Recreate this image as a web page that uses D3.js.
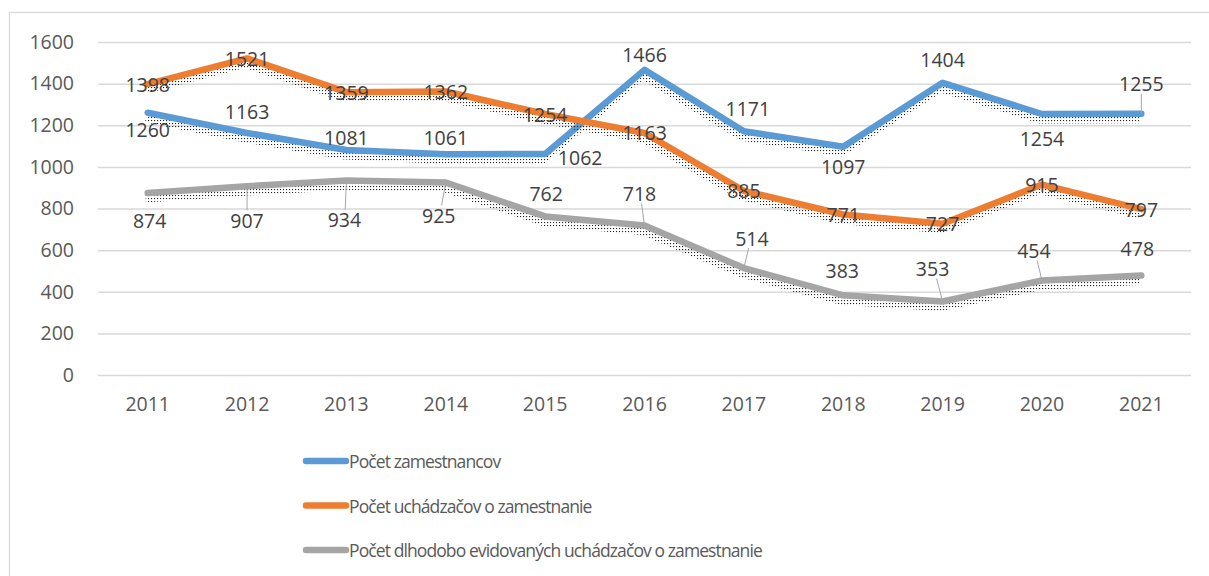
<!DOCTYPE html>
<html>
<head>
<meta charset="utf-8">
<script src="https://cdn.jsdelivr.net/npm/d3@7"></script>
<style>
  body { margin: 0; background: #fff; }
  text { font-family: "Open Sans", sans-serif; }
</style>
</head>
<body>
<div id="chart"></div>
<script>
// Data
const years = ["2011", "2012", "2013", "2014", "2015", "2016", "2017", "2018", "2019", "2020", "2021"];
const zamestnanci = [1260, 1163, 1081, 1061, 1062, 1466, 1171, 1097, 1404, 1254, 1255];
const uchadzaci = [1398, 1521, 1359, 1362, 1254, 1163, 885, 771, 727, 915, 797];
const dlhodobi = [874, 907, 934, 925, 762, 718, 514, 383, 353, 454, 478];
const yTicks = [0, 200, 400, 600, 800, 1000, 1200, 1400, 1600];
const seriesNames = [
    "Počet zamestnancov",
    "Počet uchádzačov o zamestnanie",
    "Počet dlhodobo evidovaných uchádzačov o zamestnanie"
];

// label placement (dx, dy from the point), like Excel put them
const labelShift = [
    [[0,17],[0,-21],[0,-13],[0,-17],[35,4],[0,-15],[4,-23],[0,20],[0,-23],[0,24],[0,-30]],
    [[0,0],[0,0],[0,0],[0,0],[0,0],[0,0],[0,0],[0,0],[0,0],[0,0],[0,0]],
    [[2,27],[0,34],[-2,39],[-7,33],[1,-23],[-5,-32],[8,-30],[-1,-25],[-10,-33],[-8,-30],[-4,-27]]
];

const W = 1209, H = 576;
const plot = { left: 98, right: 1191, top: 42, bottom: 375 };

const svg = d3.select("#chart")
    .append("svg")
    .attr("width", W)
    .attr("height", H);

// dotted shadow texture
const defs = svg.append("defs");
const pat = defs.append("pattern")
    .attr("id", "dots")
    .attr("width", 3)
    .attr("height", 3)
    .attr("patternUnits", "userSpaceOnUse");
pat.append("rect").attr("x", 0).attr("y", 0).attr("width", 1.1).attr("height", 1.1).attr("fill", "#222");

// chart border
svg.append("rect")
    .attr("x", 9.5)
    .attr("y", 12.5)
    .attr("width", 1220)
    .attr("height", 600)
    .attr("fill", "none")
    .attr("stroke", "#d9d9d9")
    .attr("stroke-width", 1.3);

// Scales
const x = d3.scaleBand()
    .domain(years)
    .range([plot.left, plot.right]);

const y = d3.scaleLinear()
    .domain([0, 1600])
    .range([plot.bottom, plot.top]);

const color = d3.scaleOrdinal()
    .domain(seriesNames)
    .range(["#5b9bd5", "#ed7d31", "#a5a5a5"]);

// Gridlines
svg.append("g")
    .attr("transform", `translate(${plot.left},0)`)
    .call(d3.axisLeft(y).tickValues(yTicks).tickSize(-(plot.right - plot.left)).tickFormat(""))
    .call(g => g.select(".domain").remove())
    .selectAll("line")
    .attr("stroke", "#d9d9d9")
    .attr("stroke-width", 1.5);

// Y axis labels
svg.append("g")
    .attr("transform", `translate(${plot.left},0)`)
    .call(d3.axisLeft(y).tickValues(yTicks).tickSize(0).tickPadding(24).tickFormat(d3.format("d")))
    .call(g => g.select(".domain").remove())
    .selectAll("text")
    .attr("fill", "#595959")
    .style("font-size", "19.5px");

// X axis labels
svg.append("g")
    .attr("transform", `translate(0,${plot.bottom})`)
    .call(d3.axisBottom(x).tickSize(0).tickPadding(22))
    .call(g => g.select(".domain").remove())
    .selectAll("text")
    .attr("fill", "#595959")
    .style("font-size", "19.5px");

// Lines
const allSeries = [zamestnanci, uchadzaci, dlhodobi];
const cx = d => x(d) + x.bandwidth() / 2;

const line = d3.line()
    .x((d, i) => cx(years[i]))
    .y(d => y(d));

allSeries.forEach((vals, s) => {
    svg.append("path")
        .datum(vals)
        .attr("d", line)
        .attr("transform", "translate(-2,6)")
        .attr("fill", "none")
        .attr("stroke", "url(#dots)")
        .attr("stroke-width", 7)
        .attr("stroke-linejoin", "round");

    svg.append("path")
        .datum(vals)
        .attr("d", line)
        .attr("fill", "none")
        .attr("stroke", color(seriesNames[s]))
        .attr("stroke-width", 6.5)
        .attr("stroke-linejoin", "round")
        .attr("stroke-linecap", "round");
});

// Data labels
allSeries.forEach((vals, s) => {
    const g = svg.append("g");
    vals.forEach((v, i) => {
        const px = cx(years[i]), py = y(v);
        const [dx, dy] = labelShift[s][i];
        if (Math.abs(dy) >= 30) {
            const sign = dy > 0 ? 1 : -1;
            g.append("line")
                .attr("x1", px)
                .attr("y1", py)
                .attr("x2", px + dx * 0.6)
                .attr("y2", py + dy - sign * 10)
                .attr("stroke", "#a6a6a6")
                .attr("stroke-width", 1);
        }
        g.append("text")
            .attr("x", px + dx)
            .attr("y", py + dy)
            .attr("text-anchor", "middle")
            .attr("dominant-baseline", "central")
            .attr("fill", "#404040")
            .style("font-size", "19.5px")
            .text(v);
    });
});

// Legend
const legend = svg.append("g")
    .attr("transform", "translate(306, 461)");

seriesNames.forEach((name, i) => {
    legend.append("line")
        .attr("x1", 0)
        .attr("x2", 40)
        .attr("y1", i * 44.5)
        .attr("y2", i * 44.5)
        .attr("stroke", color(name))
        .attr("stroke-width", 6.5)
        .attr("stroke-linecap", "round");

    legend.append("text")
        .attr("x", 43)
        .attr("y", i * 44.5)
        .attr("dominant-baseline", "central")
        .attr("fill", "#595959")
        .style("font-size", "17.5px")
        .style("letter-spacing", "-0.9px")
        .text(name);
});
</script>
</body>
</html>
